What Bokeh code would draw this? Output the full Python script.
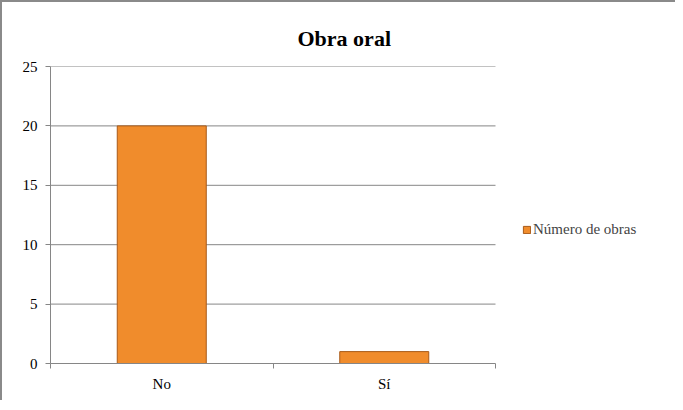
from bokeh.plotting import figure
from bokeh.models import (Range1d, FixedTicker, Legend, LegendItem, ColumnDataSource)
from bokeh.embed import file_html
from bokeh.resources import INLINE

# Data
categories = ["No", "Sí"]
values = [20, 1]
series_name = "Número de obras"
title_text = "Obra oral"
y_ticks = [0, 5, 10, 15, 20, 25]

n = len(categories)
xs = [i + 0.5 for i in range(n)]
source = ColumnDataSource(dict(x=xs, top=values, cat=categories))

# layout (pixels)
W, H = 675, 400
left, right_pad, top, bottom = 48, 5, 64, 39
plot_w = 445                      # width of the category area
frame_w = W - left - right_pad
x_end = n * frame_w / plot_w

p = figure(width=W, height=H, output_backend="svg", toolbar_location=None,
           x_range=Range1d(0, x_end), y_range=Range1d(0, 25),
           min_border_left=left, min_border_right=right_pad, min_border_top=top,
           min_border_bottom=bottom, background_fill_color="white",
           border_fill_color="white", outline_line_color=None)
p.styles = {"border-left": "2px solid #8a8a8a", "border-top": "2px solid #8a8a8a"}

serif = "Liberation Serif"

p.title.text = title_text
p.title.text_font = serif
p.title.text_font_size = "22px"
p.title.text_font_style = "bold"
p.title.align = "left"
p.title.offset = 247
p.title.standoff = 32
p.title.text_color = "black"

# horizontal gridlines limited to the category area
grid_src = ColumnDataSource(dict(x0=[0] * (len(y_ticks) - 1), x1=[n] * (len(y_ticks) - 1),
                                 y=y_ticks[1:]))
p.segment(x0="x0", x1="x1", y0="y", y1="y", source=grid_src,
          line_color="#868686", line_width=1)

r = p.vbar(x="x", top="top", width=0.4, bottom=0, source=source,
           fill_color="#F08C2C", line_color="#A85A18", line_width=1)

# axes
p.xaxis.ticker = FixedTicker(ticks=xs, minor_ticks=list(range(n + 1)))
p.xaxis.major_label_overrides = {x: c for x, c in zip(xs, categories)}
p.xaxis.bounds = (0, n)
p.xaxis.major_tick_out = 0
p.xaxis.major_tick_in = 0
p.xaxis.minor_tick_out = 5
p.xaxis.minor_tick_in = 0
p.xaxis.minor_tick_line_color = "#868686"
p.xaxis.axis_line_color = "#868686"
p.xaxis.major_label_standoff = 7

p.yaxis.ticker = FixedTicker(ticks=y_ticks)
p.yaxis.major_tick_out = 5
p.yaxis.major_tick_in = 0
p.yaxis.minor_tick_line_color = None
p.yaxis.major_tick_line_color = "#868686"
p.yaxis.axis_line_color = "#868686"
p.yaxis.major_label_standoff = 8

for ax in (p.xaxis[0], p.yaxis[0]):
    ax.major_label_text_font = serif
    ax.major_label_text_font_size = "15px"
    ax.major_label_text_color = "black"

p.xgrid.grid_line_color = None
p.ygrid.grid_line_color = None

legend = Legend(items=[LegendItem(label=series_name, renderers=[r])],
                location=(472, 125), label_text_font=serif, label_text_font_size="15px",
                glyph_width=9, glyph_height=9, border_line_color=None,
                background_fill_alpha=0, margin=0, padding=0, label_standoff=2)
p.add_layout(legend)

open("out.html", "w").write(file_html(p, INLINE))
